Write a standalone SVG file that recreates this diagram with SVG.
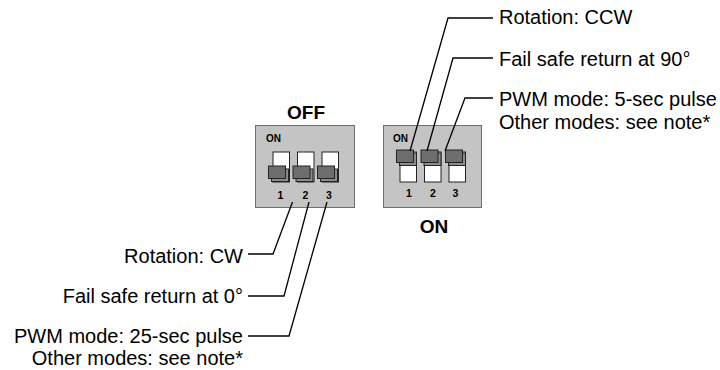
<svg xmlns="http://www.w3.org/2000/svg" width="720" height="370" viewBox="0 0 720 370">
<style>
.box{fill:#c4c4c4;stroke:#6e6e6e;stroke-width:1}
.slot{fill:#ffffff;stroke:#222;stroke-width:1}
.tog{fill:#6e6e6e;stroke:#222;stroke-width:1}
.sh{fill:#8c8c8c;stroke:#222;stroke-width:1}
.lbl{font-family:"Liberation Sans",Arial,sans-serif;font-size:20px;fill:#000}
.big{font-family:"Liberation Sans",Arial,sans-serif;font-size:19px;font-weight:bold;fill:#000;text-anchor:middle}
.num{font-family:"Liberation Sans",Arial,sans-serif;font-size:10.5px;font-weight:bold;fill:#000;text-anchor:middle}
.on{font-family:"Liberation Sans",Arial,sans-serif;font-size:10px;font-weight:bold;fill:#000}
.ln{fill:none;stroke:#000;stroke-width:1.3}
</style>
<rect width="720" height="370" fill="#fff"/>
<g id="switch-off">
<text class="big" x="306" y="119">OFF</text>
<rect class="box" x="255.5" y="125.5" width="99" height="82"/>
<text class="on" x="266" y="142">ON</text>
<rect class="slot" x="273" y="152" width="16.5" height="30"/>
<rect class="slot" x="297.5" y="152" width="16.5" height="30"/>
<rect class="slot" x="322" y="152" width="16.5" height="30"/>
<rect class="sh" x="271.5" y="169" width="17" height="12.5"/>
<rect class="tog" x="268.5" y="166" width="17" height="12.5"/>
<rect class="sh" x="296" y="169" width="17" height="12.5"/>
<rect class="tog" x="293" y="166" width="17" height="12.5"/>
<rect class="sh" x="320.5" y="169" width="17" height="12.5"/>
<rect class="tog" x="317.5" y="166" width="17" height="12.5"/>
<text class="num" x="280.5" y="198.5">1</text>
<text class="num" x="305.5" y="198.5">2</text>
<text class="num" x="329" y="198.5">3</text>
</g>
<g id="switch-on">
<rect class="box" x="383.5" y="125.5" width="98" height="82"/>
<text class="on" x="393" y="141.5">ON</text>
<rect class="slot" x="400" y="152" width="16.5" height="30"/>
<rect class="slot" x="424.5" y="152" width="16.5" height="30"/>
<rect class="slot" x="449" y="152" width="16.5" height="30"/>
<rect class="sh" x="399.5" y="153" width="17" height="12.5"/>
<rect class="tog" x="396.5" y="150" width="17" height="12.5"/>
<rect class="sh" x="424" y="153" width="17" height="12.5"/>
<rect class="tog" x="421" y="150" width="17" height="12.5"/>
<rect class="sh" x="448.5" y="153" width="17" height="12.5"/>
<rect class="tog" x="445.5" y="150" width="17" height="12.5"/>
<text class="num" x="409" y="197">1</text>
<text class="num" x="433" y="197">2</text>
<text class="num" x="455.5" y="197">3</text>
<text class="big" x="434" y="233">ON</text>
</g>
<g id="connectors">
<polyline class="ln" points="292.5,202 273,254 248,254"/>
<polyline class="ln" points="309,202 284,296 248,296"/>
<polyline class="ln" points="327,202 289,336 248,336"/>
<polyline class="ln" points="410,151 448,18 493,18"/>
<polyline class="ln" points="427,151 453,58 493,58"/>
<polyline class="ln" points="445,151 465,98 493,98"/>
</g>
<g id="labels">
<text class="lbl" x="243" y="263" text-anchor="end">Rotation: CW</text>
<text class="lbl" x="243" y="303" text-anchor="end">Fail safe return at 0°</text>
<text class="lbl" x="243" y="343" text-anchor="end">PWM mode: 25-sec pulse</text>
<text class="lbl" x="243" y="365" text-anchor="end">Other modes: see note*</text>
<text class="lbl" x="499" y="24">Rotation: CCW</text>
<text class="lbl" x="499" y="66">Fail safe return at 90°</text>
<text class="lbl" x="499" y="106">PWM mode: 5-sec pulse</text>
<text class="lbl" x="499" y="129">Other modes: see note*</text>
</g>
</svg>
